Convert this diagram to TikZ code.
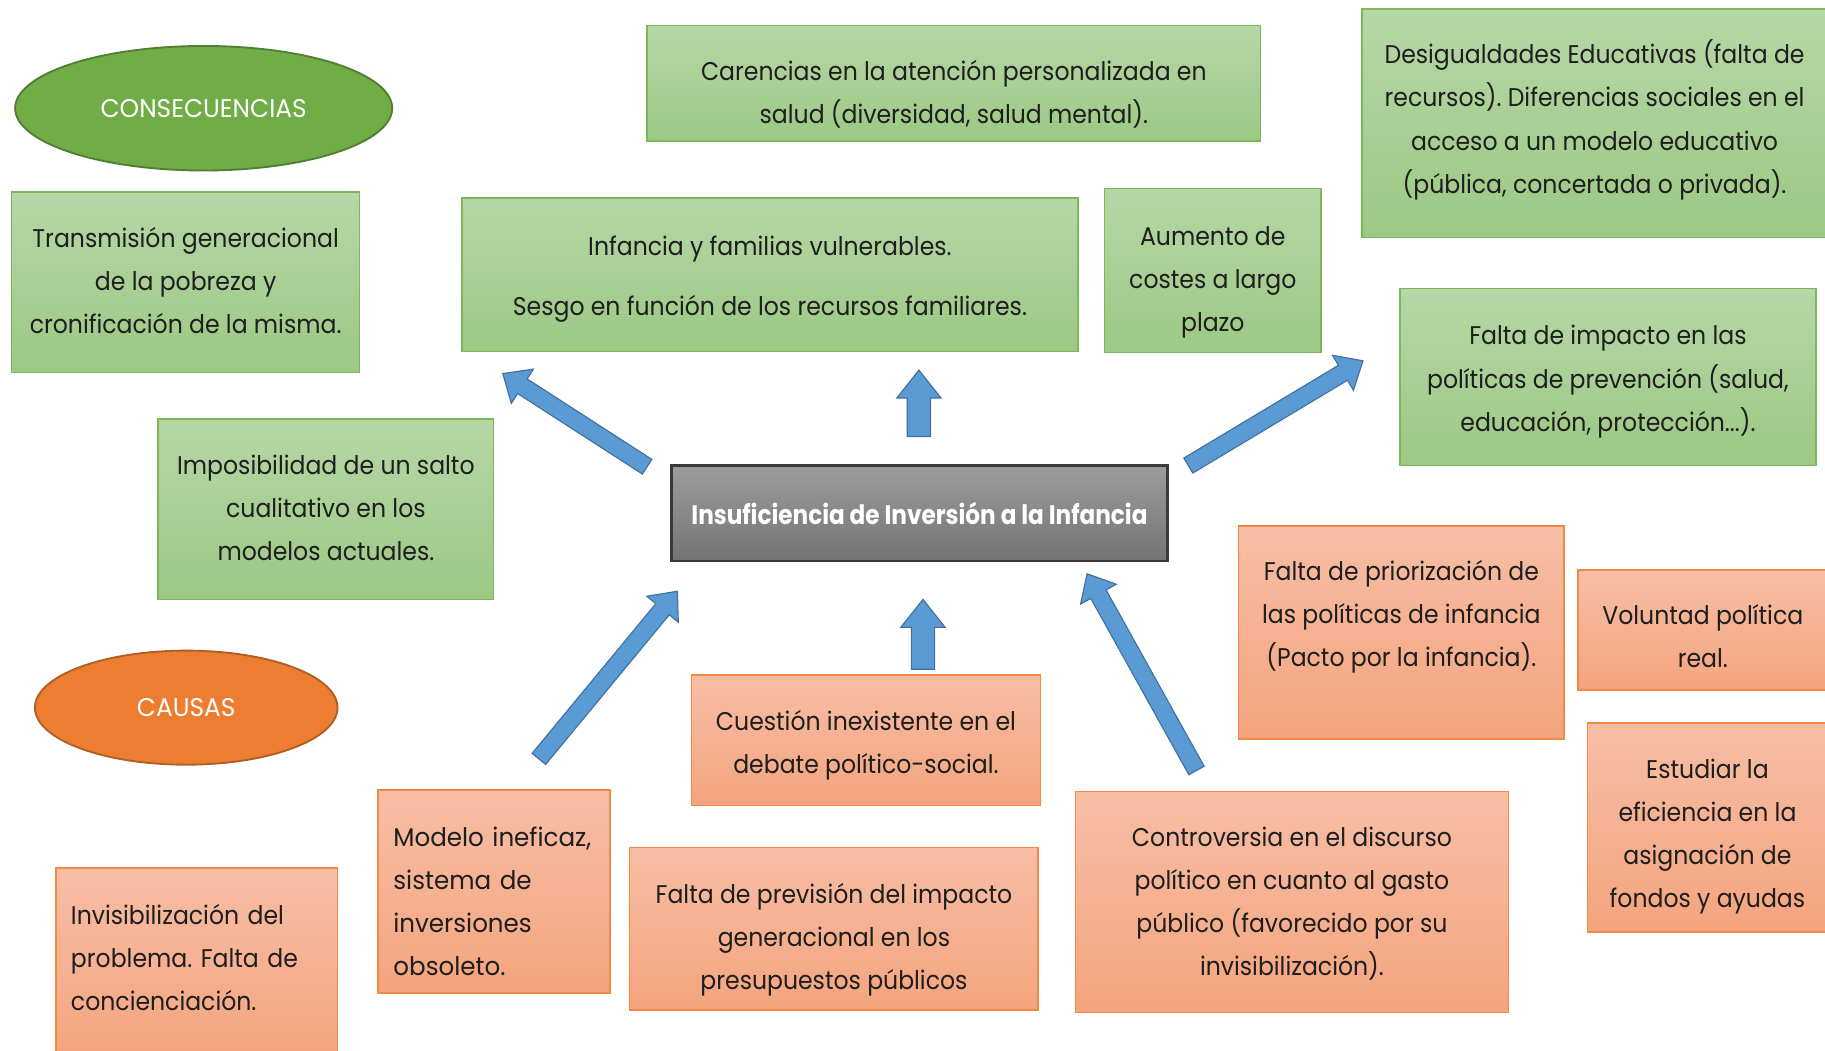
\documentclass[tikz,border=0pt]{standalone}
\usepackage{fontspec}
\setmainfont{Poppins}[FakeStretch=0.92]
\usetikzlibrary{shapes.geometric,calc}
\definecolor{grT}{HTML}{B6D7A6}
\definecolor{grBo}{HTML}{9CC884}
\definecolor{grB}{HTML}{7CB85A}
\definecolor{orT}{HTML}{F7BEA5}
\definecolor{orBo}{HTML}{F4A47E}
\definecolor{orB}{HTML}{EF8A45}
\definecolor{gyT}{HTML}{9C9C9C}
\definecolor{gyBo}{HTML}{747474}
\definecolor{gyB}{HTML}{3A3A3A}
\definecolor{elG}{HTML}{70AD47}
\definecolor{elGB}{HTML}{507E32}
\definecolor{elO}{HTML}{ED7D31}
\definecolor{elOB}{HTML}{B05E24}
\definecolor{arF}{HTML}{5B9BD5}
\definecolor{arB}{HTML}{41719C}
\definecolor{txt}{HTML}{1E1E1E}
\frenchspacing
\newcommand\fsz{\fontsize{11pt}{18.5pt}\selectfont}
\newcommand\stretchto[1]{\addfontfeatures{FakeStretch=#1}}
% text block lowered by #1 without changing the node size
\newcommand\tx[3][0pt]{\raisebox{-#1}[\height][\depth]{\begin{tabular}{@{}#2@{}}#3\end{tabular}}}
\newcommand\blkarrow[5]{%
  \coordinate (nk) at ($(#2)!#5!(#1)$);
  \draw[barrow] ($(#1)!#3!90:(#2)$) -- ($(nk)!#3!90:(#2)$) -- ($(nk)!#4!90:(#2)$) -- (#2)
    -- ($(nk)!#4!-90:(#2)$) -- ($(nk)!#3!-90:(#2)$) -- ($(#1)!#3!-90:(#2)$) -- cycle;}
\begin{document}
\begin{tikzpicture}[x=0.5pt,y=-0.5pt,
  box/.style={rectangle, line width=0.7pt, inner sep=3pt, font=\fsz, text=txt},
  gbox/.style={box, draw=grB, top color=grT, bottom color=grBo},
  obox/.style={box, draw=orB, top color=orT, bottom color=orBo},
  cbox/.style={rectangle, line width=1pt, draw=gyB, top color=gyT, bottom color=gyBo, text=white,
    font=\fontsize{11.5pt}{14pt}\selectfont\bfseries\stretchto{0.865}},
  oval/.style={ellipse, line width=0.8pt, text=white, font=\fsz\stretchto{0.97}},
  barrow/.style={fill=arF, draw=arB, line width=0.5pt, line join=miter}]
\useasboundingbox (0,0) rectangle (1568,903);

% ellipses
\node[oval, draw=elGB, fill=elG, minimum width=162pt, minimum height=53.5pt] (cons) at (175,93) {CONSECUENCIAS};
\node[oval, draw=elOB, fill=elO, minimum width=130pt, minimum height=49pt] (caus) at (160,608) {CAUSAS};

% consequences
\node[gbox, minimum width=149.5pt, minimum height=77.5pt] (trans) at (159.5,242.5)
  {\tx{c}{Transmisión generacional\\de la pobreza y\\cronificación de la misma.}};
\node[gbox, minimum width=263.5pt, minimum height=49.5pt] (care) at (819.5,71.5)
  {\tx[4.5pt]{c}{Carencias en la atención personalizada en\\salud (diversidad, salud mental).}};
\node[gbox, minimum width=264.5pt, minimum height=66pt] (infa) at (661.5,236)
  {\tx[1pt]{c}{Infancia y familias vulnerables.\\[7pt]Sesgo en función de los recursos familiares.}};
\node[gbox, minimum width=93pt, minimum height=70.5pt] (aume) at (1042,232.5)
  {\tx[4pt]{c}{Aumento de\\costes a largo\\plazo}};
\node[gbox, minimum width=200pt, minimum height=98pt] (desi) at (1370,106)
  {\tx[-1.5pt]{c}{Desigualdades Educativas (falta de\\recursos). Diferencias sociales en el\\acceso a un modelo educativo\\(pública, concertada o privada).}};
\node[gbox, minimum width=178.5pt, minimum height=76pt] (impa) at (1381.5,324)
  {\tx[1pt]{c}{Falta de impacto en las\\políticas de prevención (salud,\\educación, protección...).}};
\node[gbox, minimum width=144pt, minimum height=77.5pt] (impo) at (280,437.5)
  {\tx{c}{Imposibilidad de un salto\\cualitativo en los\\modelos actuales.}};

% centre
\node[cbox, minimum width=213pt, minimum height=41pt] (cent) at (790,441)
  {Insuficiencia de Inversión a la Infancia};

% causes
\node[obox, minimum width=140pt, minimum height=91.5pt] (prio) at (1204,543.5)
  {\tx[-7.5pt]{c}{Falta de priorización de\\las políticas de infancia\\(Pacto por la infancia).}};
\node[obox, minimum width=107pt, minimum height=51.5pt] (volu) at (1463,541.5)
  {\tx[3pt]{c}{Voluntad política\\real.}};
\node[obox, minimum width=103pt, minimum height=90pt] (estu) at (1467,711)
  {\tx[3pt]{c}{Estudiar la\\eficiencia en la\\asignación de\\fondos y ayudas}};
\node[obox, minimum width=150pt, minimum height=56pt] (cues) at (744,636)
  {\tx[1.5pt]{c}{Cuestión inexistente en el\\debate político-social.}};
\node[obox, inner xsep=6.5pt, text width=86.5pt, minimum height=87pt] (mode) at (424.5,766)
  {\stretchto{0.96}\tx[4.5pt]{l}{Modelo ineficaz,\\sistema de\\inversiones\\obsoleto.}};
\node[obox, inner xsep=6.5pt, text width=108pt, minimum height=82pt] (invi) at (169,828)
  {\tx[-2pt]{l}{Invisibilización del\\problema. Falta de\\concienciación.}};
\node[obox, minimum width=175.5pt, minimum height=70pt] (prev) at (716.5,798)
  {\tx[4pt]{c}{Falta de previsión del impacto\\generacional en los\\presupuestos públicos}};
\node[obox, minimum width=186pt, minimum height=95pt] (cont) at (1110,775)
  {\tx{c}{Controversia en el discurso\\político en cuanto al gasto\\público (favorecido por su\\invisibilización).}};

% arrow end points
\coordinate (a1t) at (556,401);  \coordinate (a1h) at (432,321);
\coordinate (a2t) at (789.5,375); \coordinate (a2h) at (789.5,318);
\coordinate (a3t) at (1021,400); \coordinate (a3h) at (1171,310);
\coordinate (a4t) at (463,652);  \coordinate (a4h) at (582,508);
\coordinate (a5t) at (793,575);  \coordinate (a5h) at (793,515);
\coordinate (a6t) at (1028,662); \coordinate (a6h) at (934,493);

\blkarrow{a1t}{a1h}{3.75pt}{8.75pt}{10pt}
\blkarrow{a2t}{a2h}{5pt}{9.5pt}{12pt}
\blkarrow{a3t}{a3h}{3.75pt}{8.75pt}{10pt}
\blkarrow{a4t}{a4h}{3.75pt}{8.75pt}{10pt}
\blkarrow{a5t}{a5h}{5pt}{9.5pt}{12pt}
\blkarrow{a6t}{a6h}{3.75pt}{8.75pt}{10pt}
\end{tikzpicture}
\end{document}
